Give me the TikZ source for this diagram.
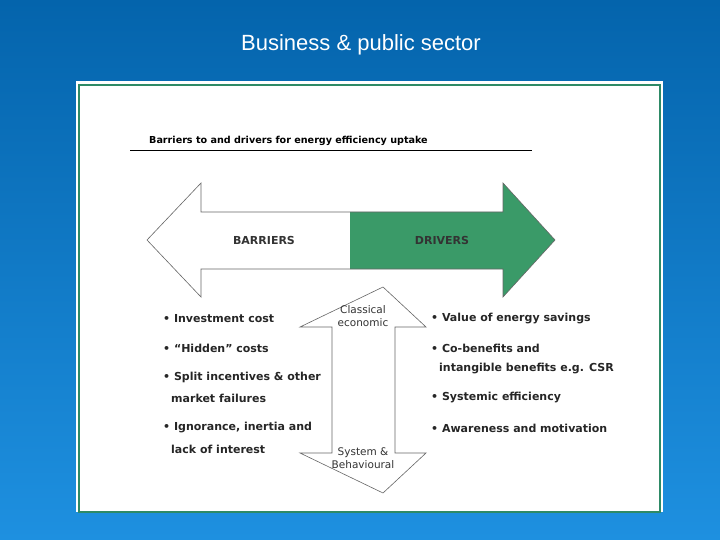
\documentclass[tikz,border=0pt]{standalone}
\usepackage{fontspec}
\setmainfont{DejaVu Sans}
\newfontfamily\arial{Liberation Sans}
\definecolor{bgtop}{HTML}{0464AC}
\definecolor{bgbot}{HTML}{1E90E0}
\definecolor{grn}{HTML}{3A9A68}
\definecolor{frame}{HTML}{2E8A66}
\begin{document}
\begin{tikzpicture}[x=1pt,y=-1pt,
  bul/.style={anchor=west,font=\bfseries\fontsize{11}{12}\selectfont,text=black!85,inner sep=0pt},
  lab/.style={font=\fontsize{10.5}{11}\selectfont,text=black!80,inner sep=0pt,align=center},
  arr/.style={draw=black!60,line width=0.6pt,line join=miter}]
\useasboundingbox (0,0) rectangle (720,540);
\shade[top color=bgtop,bottom color=bgbot] (0,0) rectangle (720,540);
\node[font=\arial\fontsize{22}{26}\selectfont,text=white] (title) at (361,45) {Business \& public sector};
\fill[white] (76,81) rectangle (663,512);
\draw[frame,line width=1.2pt] (79,85) rectangle (660,512);
\node[anchor=west,font=\bfseries\fontsize{9.6}{11}\selectfont,inner sep=0pt] (head) at (149,141) {Barriers to and drivers for energy efficiency uptake};
\coordinate (l1) at (130,150); \coordinate (l2) at (532,150);
\draw[black,line width=0.6pt] (l1) -- (l2);
% horizontal arrow
\fill[grn] (350,212) -- (503,212) -- (503,183) -- (555,240) -- (503,297) -- (503,269) -- (350,269) -- cycle;
\draw[arr] (147,240) -- (201,183) -- (201,212) -- (503,212) -- (503,183) -- (555,240) -- (503,297) -- (503,269) -- (201,269) -- (201,297) -- cycle;
\node[lab,font=\bfseries\fontsize{11}{12}\selectfont] (bar) at (264,240) {BARRIERS};
\node[lab,font=\bfseries\fontsize{11}{12}\selectfont] (drv) at (442,240) {DRIVERS};
% vertical arrow
\draw[arr,fill=white] (383,287) -- (426,327) -- (395,327) -- (395,453) -- (426,453) -- (383,493) -- (300,453) -- (332,453) -- (332,327) -- (300,327) -- cycle;
\node[lab] (ce) at (363,316) {Classical\\[2pt]economic};
\node[lab] (sb) at (363,458) {System \&\\[2pt]Behavioural};
% bullets
\node[bul] (b1) at (163,319) {• Investment cost};
\node[bul] (b2) at (163,348) {• “Hidden” costs};
\node[bul] (b3) at (163,377) {• Split incentives \& other};
\node[bul] (b3b) at (171,398) {market failures};
\node[bul] (b4) at (163,428) {• Ignorance, inertia and};
\node[bul] (b4b) at (171,449) {lack of interest};
\node[bul] (d1) at (431,319) {• Value of energy savings};
\node[bul] (d2) at (431,348) {• Co-benefits and};
\node[bul] (d2b) at (439,369) {intangible benefits e.g. CSR};
\node[bul] (d3) at (431,398) {• Systemic efficiency};
\node[bul] (d4) at (431,428) {• Awareness and motivation};
\end{tikzpicture}
\end{document}
